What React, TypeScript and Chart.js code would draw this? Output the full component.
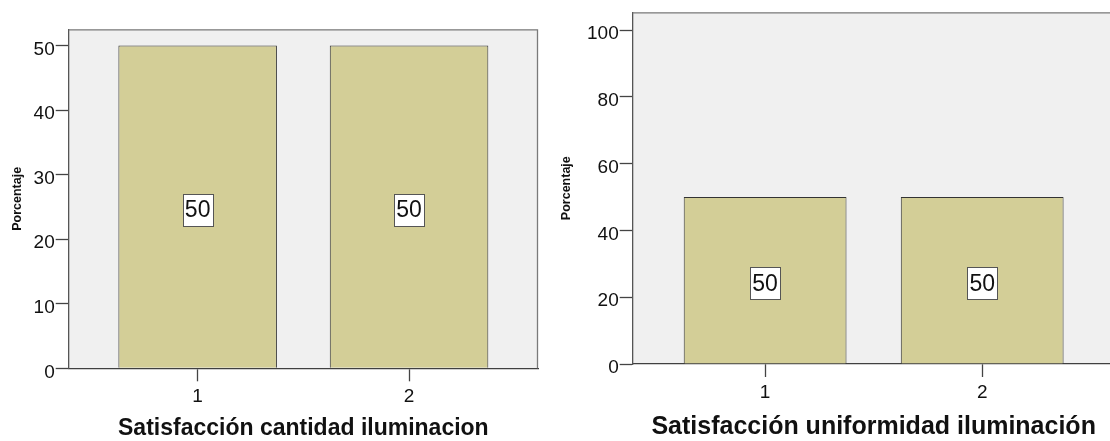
import React, { useEffect, useRef } from "react";
import { Chart, registerables } from "chart.js";

Chart.register(...registerables);

// Categories and percentages for both charts
const categories = [1, 2];
const cantidadPercent = [50, 50];
const uniformidadPercent = [50, 50];

// Axis ticks and ranges
const xTicks = [1, 2];
const xMin = 0.39;
const xMax = 2.61;
const cantidadYTicks = [0, 10, 20, 30, 40, 50];
const cantidadYMax = 52.5;
const uniformidadYTicks = [0, 20, 40, 60, 80, 100];
const uniformidadYMax = 105.3;

const yTitle = "Porcentaje";
const cantidadTitle = "Satisfacción cantidad iluminacion";
const uniformidadTitle = "Satisfacción uniformidad iluminación";

const FONT = '"Liberation Sans", Arial, sans-serif';
const BAR_FILL = "#D3CE97";
const BAR_EDGE = "#333333";
const PLOT_BG = "#F0F0F0";

// Plot background, outer frame and boxed value labels
const spssPlugin = {
  id: "spssFrame",
  beforeDraw(chart: any) {
    const { ctx, chartArea: a } = chart;
    ctx.save();
    ctx.fillStyle = PLOT_BG;
    ctx.fillRect(a.left, a.top, a.right - a.left, a.bottom - a.top);
    ctx.restore();
  },
  beforeDatasetsDraw(chart: any) {
    const { ctx, chartArea: a } = chart;
    ctx.save();
    ctx.strokeStyle = "#7a7a7a";
    ctx.lineWidth = 1.3;
    ctx.beginPath();
    ctx.moveTo(a.left, a.top + 0.5);
    ctx.lineTo(a.right - 0.5, a.top + 0.5);
    ctx.lineTo(a.right - 0.5, a.bottom);
    ctx.stroke();
    ctx.restore();
  },
  afterDatasetsDraw(chart: any) {
    const { ctx } = chart;
    const meta = chart.getDatasetMeta(0);
    const data = chart.data.datasets[0].data as any[];
    ctx.save();
    ctx.font = `23px ${FONT}`;
    ctx.textAlign = "center";
    ctx.textBaseline = "middle";
    meta.data.forEach((el: any, i: number) => {
      const { x, y, base } = el.getProps(["x", "y", "base"], true);
      const text = String(data[i].y);
      const cy = (y + base) / 2 + 3;
      const w = Math.round(ctx.measureText(text).width) + 4;
      const h = 32;
      const bx = Math.round(x - w / 2) + 0.5;
      const by = Math.round(cy - h / 2) + 0.5;
      ctx.fillStyle = "#ffffff";
      ctx.fillRect(bx, by, w, h);
      ctx.strokeStyle = "#555555";
      ctx.lineWidth = 1;
      ctx.strokeRect(bx, by, w, h);
      ctx.fillStyle = "#111111";
      ctx.fillText(text, x, cy + 1);
    });
    ctx.restore();
  },
};

type PanelProps = {
  values: number[];
  yTicks: number[];
  yMax: number;
  title: string;
  titleSize: number;
  width: number;
  left: number;
  yAxisWidth: number;
  xAxisHeight: number;
  padTop: number;
  padRight: number;
  yTitlePad: number;
};

function BarPanel(p: PanelProps) {
  const ref = useRef<HTMLCanvasElement | null>(null);

  useEffect(() => {
    if (!ref.current) return;
    const chart = new Chart(ref.current, {
      type: "bar",
      data: {
        datasets: [
          {
            data: categories.map((c, i) => ({ x: c, y: p.values[i] })),
            backgroundColor: BAR_FILL,
            borderColor: BAR_EDGE,
            borderWidth: 1,
            barPercentage: 0.75,
            categoryPercentage: 1,
          },
        ],
      },
      options: {
        animation: false,
        responsive: false,
        maintainAspectRatio: false,
        devicePixelRatio: 1,
        layout: { padding: { top: p.padTop, right: p.padRight, left: 0, bottom: 0 } },
        plugins: { legend: { display: false }, tooltip: { enabled: false } },
        scales: {
          x: {
            type: "linear",
            min: xMin,
            max: xMax,
            bounds: "data",
            offset: false,
            afterBuildTicks: (scale: any) => {
              scale.ticks = xTicks.map((v) => ({ value: v }));
            },
            afterFit: (scale: any) => {
              scale.height = p.xAxisHeight;
            },
            grid: {
              display: true,
              offset: false,
              drawOnChartArea: false,
              drawTicks: true,
              tickLength: 13,
              tickColor: "#444444",
              tickWidth: 1.3,
            },
            border: { display: true, color: "#404040", width: 1.3 },
            ticks: {
              color: "#111111",
              font: { family: FONT, size: 19 },
              padding: 4,
              maxRotation: 0,
            },
            title: {
              display: true,
              text: p.title,
              color: "#111111",
              font: { family: FONT, size: p.titleSize, weight: "bold", lineHeight: 1 },
              padding: { top: 0, bottom: 1 },
            },
          },
          y: {
            type: "linear",
            min: 0,
            max: p.yMax,
            bounds: "data",
            afterBuildTicks: (scale: any) => {
              scale.ticks = p.yTicks.map((v) => ({ value: v }));
            },
            afterFit: (scale: any) => {
              scale.width = p.yAxisWidth;
            },
            grid: {
              display: true,
              drawOnChartArea: false,
              drawTicks: true,
              tickLength: 13,
              tickColor: "#444444",
              tickWidth: 1.3,
            },
            border: { display: true, color: "#555555", width: 1.3 },
            ticks: {
              color: "#111111",
              font: { family: FONT, size: 19 },
              padding: 1,
              labelOffset: 4,
            },
            title: {
              display: true,
              text: yTitle,
              color: "#111111",
              font: { family: FONT, size: 12.5, weight: "bold" },
              padding: { top: p.yTitlePad, bottom: 0 },
            },
          },
        },
      },
      plugins: [spssPlugin],
    } as any);
    return () => chart.destroy();
  }, []);

  return (
    <canvas
      ref={ref}
      width={p.width}
      height={441}
      style={{ position: "absolute", left: p.left, top: 0, width: p.width, height: 441 }}
    />
  );
}

export default function App() {
  return (
    <div
      style={{
        position: "fixed",
        left: 0,
        top: 0,
        width: 1110,
        height: 441,
        overflow: "hidden",
        background: "#ffffff",
      }}
    >
      <BarPanel
        values={cantidadPercent}
        yTicks={cantidadYTicks}
        yMax={cantidadYMax}
        title={cantidadTitle}
        titleSize={23}
        width={555}
        left={0}
        yAxisWidth={68.7}
        xAxisHeight={72.7}
        padTop={29.3}
        padRight={17}
        yTitlePad={10}
      />
      <BarPanel
        values={uniformidadPercent}
        yTicks={uniformidadYTicks}
        yMax={uniformidadYMax}
        title={uniformidadTitle}
        titleSize={25}
        width={570}
        left={555}
        yAxisWidth={77.7}
        xAxisHeight={77}
        padTop={6}
        padRight={10.4}
        yTitlePad={4}
      />
    </div>
  );
}
